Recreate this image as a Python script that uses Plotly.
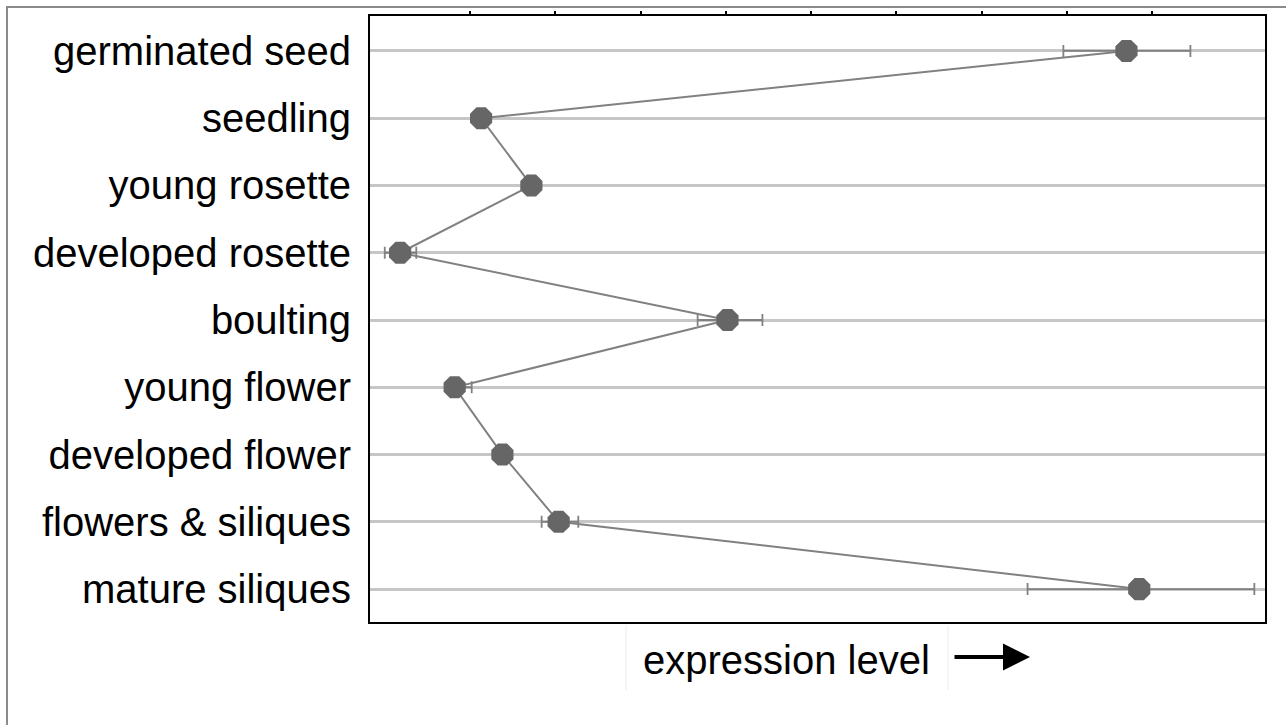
import plotly.graph_objects as go

# Developmental stages (top to bottom) and relative expression levels
stages = [
    "germinated seed",
    "seedling",
    "young rosette",
    "developed rosette",
    "boulting",
    "young flower",
    "developed flower",
    "flowers & siliques",
    "mature siliques",
]
expression = [8.70, 1.13, 1.72, 0.18, 4.02, 0.82, 1.38, 2.04, 8.85]
err_plus = [0.75, 0.05, 0.05, 0.19, 0.41, 0.20, 0.08, 0.23, 1.35]
err_minus = [0.74, 0.05, 0.05, 0.18, 0.35, 0.10, 0.08, 0.20, 1.31]

# top-axis tick marks (no labels)
tick_positions = [1, 2, 3, 4, 5, 6, 7, 8, 9]

W, H = 1286, 725
L, R, T, B = 370, 1265, 16, 622


def px(x):
    return (x - L) / (R - L)


def py(y):
    return (B - y) / (B - T)


fig = go.Figure()
fig.add_trace(
    go.Scatter(
        x=expression,
        y=stages,
        mode="lines+markers",
        line=dict(color="#818181", width=2),
        marker=dict(symbol="octagon", size=24, color="#666666", line=dict(width=0)),
        error_x=dict(
            type="data",
            symmetric=False,
            array=err_plus,
            arrayminus=err_minus,
            color="#818181",
            thickness=1.8,
            width=6,
        ),
        showlegend=False,
    )
)

font_family = "Liberation Sans, Arial, sans-serif"

fig.update_layout(
    width=W,
    height=H,
    margin=dict(l=L, r=W - R, t=T, b=H - B),
    paper_bgcolor="white",
    plot_bgcolor="white",
    font=dict(family=font_family, color="black"),
    xaxis=dict(
        range=[-0.173, 10.325],
        side="top",
        tickvals=tick_positions,
        ticks="outside",
        ticklen=3,
        tickwidth=2,
        tickcolor="black",
        showticklabels=False,
        showgrid=False,
        zeroline=False,
        showline=True,
        linecolor="black",
        linewidth=2,
        mirror=True,
    ),
    yaxis=dict(
        categoryorder="array",
        categoryarray=stages,
        range=[8.49, -0.52],
        showgrid=True,
        gridcolor="#c6c6c6",
        gridwidth=2.5,
        ticks="",
        ticklabelstandoff=9,
        tickfont=dict(size=40, family=font_family, color="black"),
        showline=True,
        linecolor="black",
        linewidth=2,
        mirror=True,
        zeroline=False,
    ),
)

# outer frame (top and left edges)
fig.add_shape(
    type="path",
    xref="paper",
    yref="paper",
    path=f"M {px(7)},{py(725)} L {px(7)},{py(7)} L {px(1286)},{py(7)}",
    line=dict(color="#8a8a8a", width=2),
)

# faint box edges around the axis caption
for xv in (626, 948):
    fig.add_shape(
        type="line",
        xref="paper",
        yref="paper",
        x0=px(xv),
        x1=px(xv),
        y0=py(625),
        y1=py(690),
        line=dict(color="#ececec", width=1),
    )

fig.add_annotation(
    text="expression level",
    xref="paper",
    yref="paper",
    x=px(786),
    y=py(660),
    xanchor="center",
    yanchor="middle",
    showarrow=False,
    font=dict(size=40, family=font_family, color="black"),
)

fig.add_annotation(
    text="",
    xref="paper",
    yref="paper",
    x=px(1030),
    y=py(657),
    ax=-77,
    ay=0,
    showarrow=True,
    arrowhead=2,
    arrowwidth=4,
    arrowsize=1.35,
    arrowcolor="black",
)

fig.write_html("out.html")
